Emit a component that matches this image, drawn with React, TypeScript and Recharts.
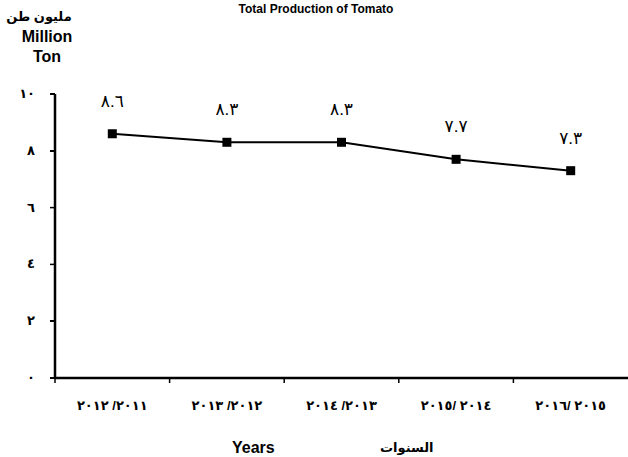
import React from "react";
import { LineChart, Line, XAxis, YAxis, LabelList } from "recharts";

const years = ["٢٠١٢ /٢٠١١", "٢٠١٣ /٢٠١٢", "٢٠١٤ /٢٠١٣", "٢٠١٥/ ٢٠١٤", "٢٠١٦/ ٢٠١٥"];
const production = [8.6, 8.3, 8.3, 7.7, 7.3];
const yTicks = [0, 2, 4, 6, 8, 10];
const Y_MAX = 10;

const data = years.map((y, i) => ({ year: y, value: production[i] }));

const toArabic = (n: number | string) =>
  String(n).replace(/[0-9]/g, (d) => "٠١٢٣٤٥٦٧٨٩"[Number(d)]);

const FONT = "Arial, 'Liberation Sans', 'DejaVu Sans', sans-serif";
const CHART_W = 628;
const CHART_H = 457;
const TOP = 94;
const X_AXIS_H = 79;
const Y_AXIS_W = 55;
const PLOT_H = CHART_H - TOP - X_AXIS_H;

const XTick = (props: any) => {
  const { x, y, payload, width, visibleTicksCount } = props;
  const w = width || 573;
  const bw = w / (visibleTicksCount || 5);
  const left = x - bw / 2;
  return (
    <g>
      <line x1={left} y1={y} x2={left} y2={y + 5} stroke="#000" strokeWidth={1.5} />
      <text
        x={x}
        y={y + 32}
        textAnchor="middle"
        fontSize={13}
        fontWeight="bold"
        fontFamily={FONT}
        fill="#000"
        style={{ unicodeBidi: "bidi-override", direction: "ltr" } as any}
      >
        {payload.value}
      </text>
    </g>
  );
};

const YTick = (props: any) => {
  const { x, y, payload } = props;
  return (
    <g>
      <line x1={x - 5} y1={y} x2={x} y2={y} stroke="#000" strokeWidth={1.5} />
      <text x={x - 20} y={y + 4} textAnchor="end" fontSize={13} fontWeight="bold" fontFamily={FONT} fill="#000">
        {toArabic(payload.value)}
      </text>
    </g>
  );
};

const SquareDot = (props: any) => {
  const { cx, cy } = props;
  return <rect x={cx - 4.5} y={cy - 4.5} width={9} height={9} fill="#000" />;
};

const ValueLabel = (props: any) => {
  const { x, y, value } = props;
  return (
    <text
      x={x}
      y={y - 27}
      textAnchor="middle"
      fontSize={17}
      fontFamily={FONT}
      fill="#000"
      style={{ unicodeBidi: "bidi-override", direction: "ltr" } as any}
    >
      {toArabic(value)}
    </text>
  );
};

export default function App() {
  return (
    <div style={{ position: "absolute", left: 0, top: 0, width: CHART_W, height: CHART_H, background: "#fff" }}>
      <div style={{ position: "absolute", left: 0, top: 0, width: CHART_W, textAlign: "center", font: `bold 12px ${FONT}`, marginTop: 2, paddingLeft: 2 }}>
        Total Production of Tomato
      </div>
      <div style={{ position: "absolute", left: 0, top: 7, width: 94, textAlign: "center", font: `bold 16px ${FONT}`, lineHeight: "20px" }}>
        <div style={{ fontSize: 13, paddingRight: 16 }}>مليون طن</div>
        <div>Million</div>
        <div>Ton</div>
      </div>
      <div style={{ position: "absolute", left: 232, top: 439, font: `bold 16px ${FONT}` }}>Years</div>
      <div style={{ position: "absolute", left: 380, top: 440, font: `bold 13px ${FONT}` }}>السنوات</div>
      <LineChart width={CHART_W} height={CHART_H} data={data} margin={{ top: TOP, right: 0, bottom: 0, left: 0 }}>
        <XAxis
          dataKey="year"
          scale="band"
          height={X_AXIS_H}
          stroke="#000"
          tick={<XTick />}
          tickSize={0}
          tickMargin={0}
          axisLine={{ stroke: "#000", strokeWidth: 2.5 }}
          interval={0}
        />
        <YAxis
          domain={[0, Y_MAX]}
          ticks={yTicks}
          width={Y_AXIS_W}
          stroke="#000"
          tickSize={0}
          tickMargin={0}
          tick={<YTick />}
          axisLine={{ stroke: "#000", strokeWidth: 2.5 }}
        />
        <Line
          type="linear"
          dataKey="value"
          stroke="#000"
          strokeWidth={2}
          dot={<SquareDot />}
          isAnimationActive={false}
        >
          <LabelList dataKey="value" content={<ValueLabel />} />
        </Line>
      </LineChart>
      <div
        style={{
          position: "absolute",
          zIndex: 10,
          left: Y_AXIS_W - 1,
          top: TOP,
          width: 2,
          height: PLOT_H + 1,
          background: "#000",
        }}
      />
      {yTicks.map((v) => (
        <div
          key={v}
          style={{
            position: "absolute",
            zIndex: 10,
            left: Y_AXIS_W - 5,
            top: TOP + PLOT_H - (PLOT_H * v) / Y_MAX - 0.75,
            width: 5,
            height: 1.5,
            background: "#000",
          }}
        />
      ))}
    </div>
  );
}
